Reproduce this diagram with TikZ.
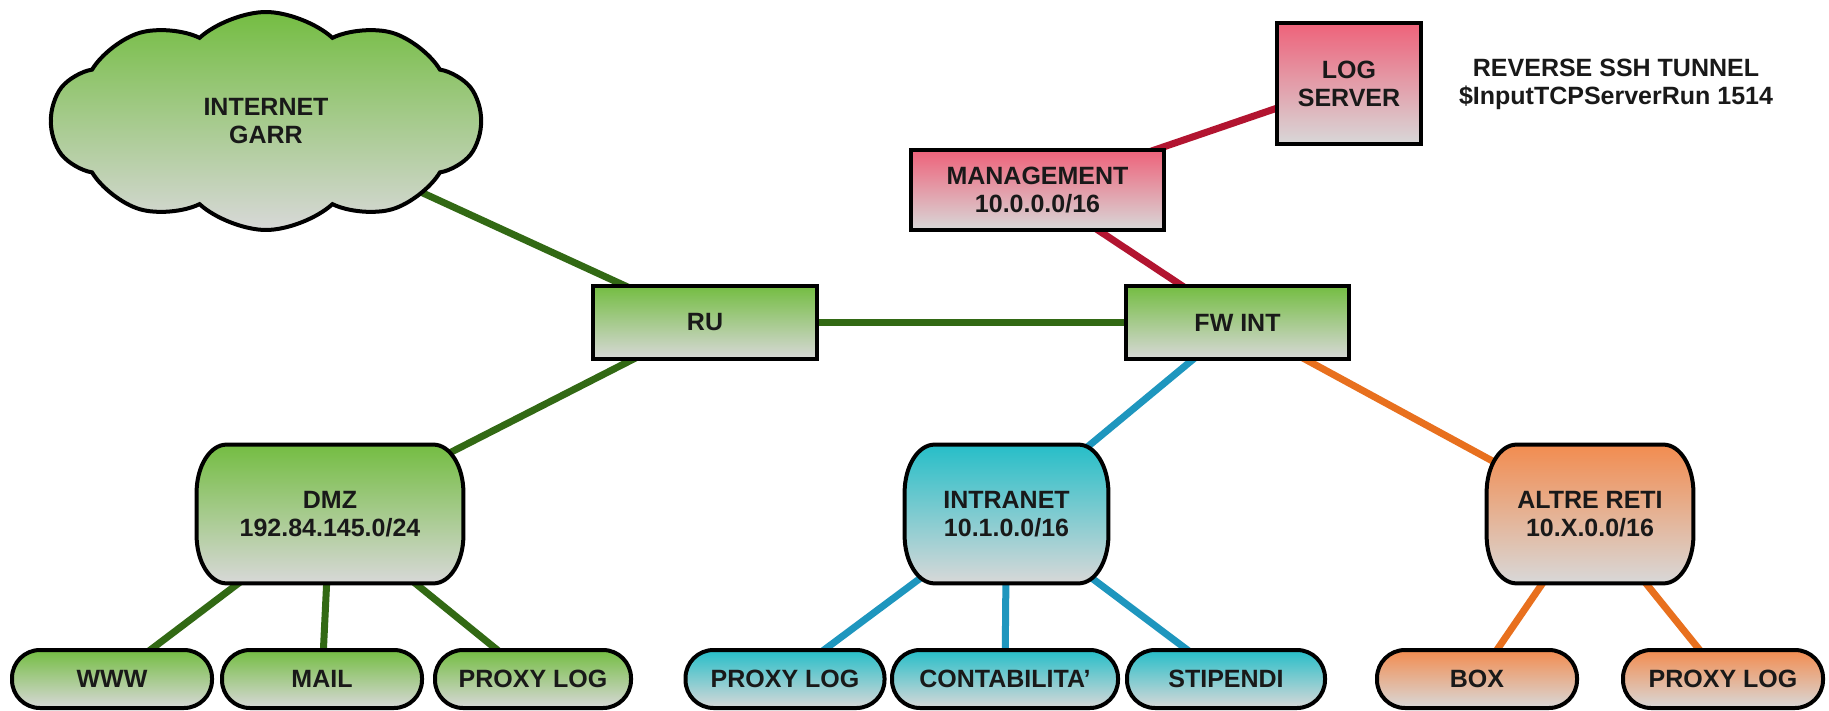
\documentclass[tikz,border=0pt]{standalone}
\usepackage{fontspec}
\setmainfont{Liberation Sans}
\usetikzlibrary{shapes.symbols}

\pgfdeclarelayer{links}
\pgfdeclarelayer{bodies}
\pgfsetlayers{links,bodies,main}

% palette
\definecolor{grnTop}{RGB}{116,189,66}
\definecolor{pinkTop}{RGB}{238,98,122}
\definecolor{cyanTop}{RGB}{38,190,200}
\definecolor{orngTop}{RGB}{242,140,80}
\definecolor{fadeBot}{RGB}{216,216,216}
\definecolor{grnLine}{RGB}{50,105,20}
\definecolor{redLine}{RGB}{178,20,48}
\definecolor{cyanLine}{RGB}{30,150,190}
\definecolor{orngLine}{RGB}{232,112,30}
\definecolor{ink}{RGB}{25,25,25}

\tikzset{
  lbl/.style={font=\fontsize{12.5}{14}\selectfont\bfseries, text=ink,
              align=center, inner sep=0pt},
  box/.style={lbl, rectangle, draw=black, line width=2pt},
  pill/.style={lbl, draw=black, line width=2pt, rounded corners=14pt,
               minimum height=29pt},
  netlbl/.style={lbl, minimum height=69pt},
  gfill/.style={top color=grnTop, bottom color=fadeBot},
  pfill/.style={top color=pinkTop, bottom color=fadeBot},
  cfill/.style={top color=cyanTop, bottom color=fadeBot},
  ofill/.style={top color=orngTop, bottom color=fadeBot},
  glink/.style={draw=grnLine, line width=3.5pt},
  rlink/.style={draw=redLine, line width=3.5pt},
  clink/.style={draw=cyanLine, line width=3.5pt},
  olink/.style={draw=orngLine, line width=3.5pt},
}

% outline of a network node: flat top and bottom, bulging sides
\newcommand\netbody[2]{%
  \path[#2, draw=black, line width=2pt]
    ([xshift=15pt]#1.north west) -- ([xshift=-15pt]#1.north east)
    arc[start angle=90, end angle=0, x radius=15pt, y radius=24pt]
    -- ([yshift=24pt]#1.south east)
    arc[start angle=0, end angle=-90, x radius=15pt, y radius=24pt]
    -- ([xshift=15pt]#1.south west)
    arc[start angle=270, end angle=180, x radius=15pt, y radius=24pt]
    -- ([yshift=-24pt]#1.north west)
    arc[start angle=180, end angle=90, x radius=15pt, y radius=24pt]
    -- cycle;}

\begin{document}
\begin{tikzpicture}[x=0.5pt,y=-0.5pt]
\useasboundingbox (0,0) rectangle (1829,711);
\begin{pgfonlayer}{links}
  \fill[white] (0,0) rectangle (1829,711);
\end{pgfonlayer}

% cloud and core
\node[lbl, cloud, cloud puffs=10, cloud puff arc=85, aspect=2,
      draw=black, line width=2pt, gfill,
      minimum width=215pt, minimum height=109pt] (inet) at (266,121) {INTERNET\\GARR};
\node[box, gfill, minimum width=112pt, minimum height=36.5pt] (ru) at (705,322.5) {RU};
\node[box, gfill, minimum width=111.5pt, minimum height=36.5pt] (fw) at (1237.5,322.5) {FW INT};

% management branch
\node[box, pfill, minimum width=126.5pt, minimum height=40pt] (mgmt) at (1037.5,190) {MANAGEMENT\\10.0.0.0/16};
\node[box, pfill, minimum width=72pt, minimum height=60.5pt] (logsrv) at (1349,83.5) {LOG\\SERVER};
\node[lbl] (tunnel) at (1616,84) {REVERSE SSH TUNNEL\\\$InputTCPServerRun 1514};

% networks
\node[netlbl, minimum width=133pt] (dmz) at (330,514) {DMZ\\192.84.145.0/24};
\node[netlbl, minimum width=101.5pt] (intra) at (1006.5,514) {INTRANET\\10.1.0.0/16};
\node[netlbl, minimum width=103pt] (altre) at (1590,514) {ALTRE RETI\\10.X.0.0/16};

% hosts
\node[pill, gfill, minimum width=100pt] (www) at (112,679) {WWW};
\node[pill, gfill, minimum width=100pt] (mail) at (322,679) {MAIL};
\node[pill, gfill, minimum width=98pt] (gproxy) at (533,679) {PROXY LOG};
\node[pill, cfill, minimum width=99.5pt] (cproxy) at (785,679) {PROXY LOG};
\node[pill, cfill, minimum width=113pt] (conta) at (1005,679) {CONTABILITA'};
\node[pill, cfill, minimum width=99pt] (stip) at (1226,679) {STIPENDI};
\node[pill, ofill, minimum width=100pt] (box) at (1477,679) {BOX};
\node[pill, ofill, minimum width=100pt] (oproxy) at (1723,679) {PROXY LOG};

\begin{pgfonlayer}{bodies}
  \netbody{dmz}{gfill}
  \netbody{intra}{cfill}
  \netbody{altre}{ofill}
\end{pgfonlayer}

\begin{pgfonlayer}{links}
  \draw[glink] (inet.center) -- (ru.center);
  \draw[glink] (ru.center) -- (fw.center);
  \draw[glink] (ru.center) -- (dmz.center);
  \draw[glink] (dmz.center) -- (www.center);
  \draw[glink] (dmz.center) -- (mail.center);
  \draw[glink] (dmz.center) -- (gproxy.center);
  \draw[rlink] (fw.center) -- (mgmt.center);
  \draw[rlink] (mgmt.center) -- (logsrv.center);
  \draw[clink] (fw.center) -- (intra.center);
  \draw[clink] (intra.center) -- (cproxy.center);
  \draw[clink] (intra.center) -- (conta.center);
  \draw[clink] (intra.center) -- (stip.center);
  \draw[olink] (fw.center) -- (altre.center);
  \draw[olink] (altre.center) -- (box.center);
  \draw[olink] (altre.center) -- (oproxy.center);
\end{pgfonlayer}
\end{tikzpicture}
\end{document}
